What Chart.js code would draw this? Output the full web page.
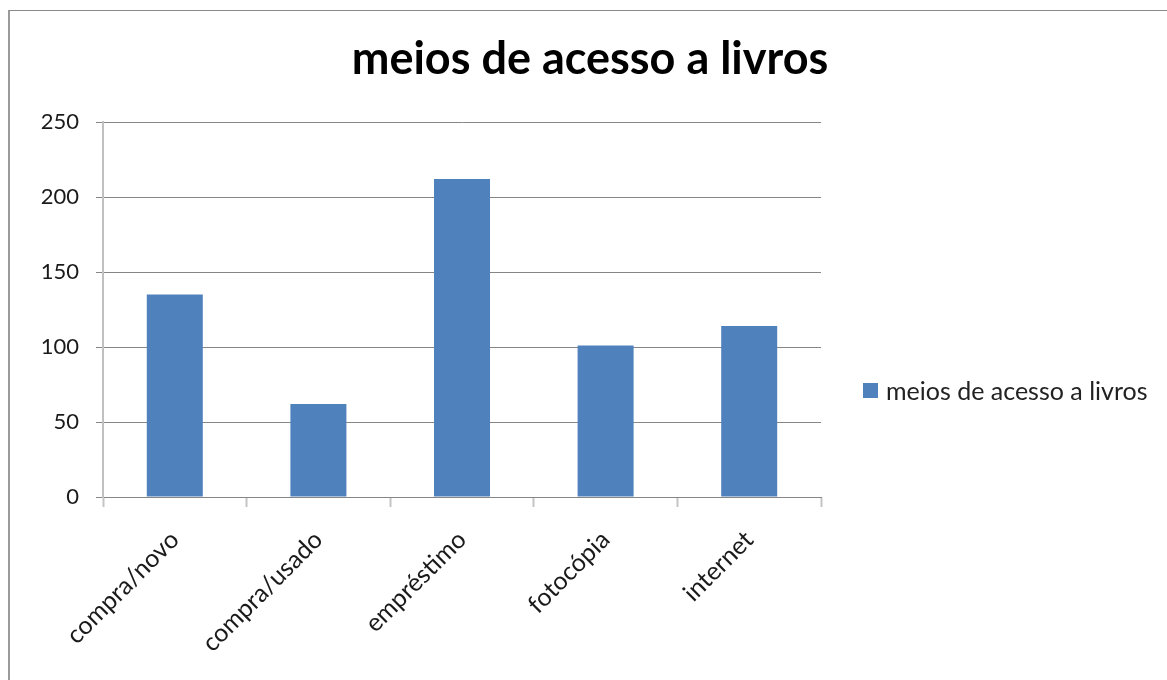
<!DOCTYPE html>
<html>
<head>
<meta charset="utf-8">
<script src="https://cdn.jsdelivr.net/npm/chart.js@4.4.0/dist/chart.umd.min.js"></script>
<style>
  html, body { margin: 0; padding: 0; background: #fff; }
  #wrap { position: relative; width: 1167px; height: 680px; }
  #frame { position: absolute; left: 8px; top: 10px; right: 0; bottom: 0;
           border-top: 1px solid #898989; border-left: 2px solid #9a9a9a; }
  canvas { position: absolute; left: 0; top: 0; }
  #legend { position: absolute; left: 863px; top: 374px; height: 32px;
            display: flex; align-items: center;
            font-family: Lato, "Open Sans", sans-serif; font-size: 25px; color: #222; }
  #legend .box { width: 15px; height: 15px; margin-right: 8px; }
</style>
</head>
<body>
<div id="wrap">
  <div id="frame"></div>
  <canvas id="chart" width="1167" height="680"></canvas>
  <div id="legend"></div>
</div>
<script>
var categories = ['compra/novo', 'compra/usado', 'empréstimo', 'fotocópia', 'internet'];
var values = [135, 62, 212, 101, 114];
var seriesName = 'meios de acesso a livros';
var chartTitle = 'meios de acesso a livros';
var yMin = 0;
var yMax = 250;
var yStep = 50;

var fontFamily = 'Lato, "Open Sans", sans-serif';
var barColor = '#4f81bd';

// title centre in the reference (the plot area is off-centre because of the legend)
var titleCenter = 590;

var titlePlacer = {
    id: 'titlePlacer',
    afterLayout: function(chart) {
        var t = chart.titleBlock;
        var tw = t.right - t.left;
        t.left = titleCenter - tw / 2;
        t.right = titleCenter + tw / 2;
    }
};

var ctx = document.getElementById('chart').getContext('2d');

var chart = new Chart(ctx, {
    type: 'bar',
    data: {
        labels: categories,
        datasets: [
            {
                label: seriesName,
                data: values,
                backgroundColor: barColor,
                borderWidth: 0,
                categoryPercentage: 1.0,
                barPercentage: 0.39
            }
        ]
    },
    options: {
        responsive: false,
        animation: false,
        layout: {
            padding: { left: 0, top: 0, right: 346, bottom: 0 }
        },
        plugins: {
            title: {
                display: true,
                text: chartTitle,
                color: '#000',
                font: { family: fontFamily, size: 45, weight: 'bold' },
                padding: { top: 32, bottom: 36 }
            },
            legend: { display: false },
            tooltip: { enabled: false }
        },
        scales: {
            x: {
                offset: true,
                afterFit: function(scale) { scale.height = 183; },
                grid: {
                    offset: true,
                    drawOnChartArea: false,
                    drawTicks: true,
                    tickLength: 10,
                    tickColor: '#c4c4c4',
                    tickWidth: 2
                },
                border: { display: true, color: '#868686', width: 1 },
                ticks: {
                    minRotation: 45,
                    maxRotation: 45,
                    padding: 18,
                    color: '#1a1a1a',
                    font: { family: fontFamily, size: 25 }
                }
            },
            y: {
                min: yMin,
                max: yMax,
                afterFit: function(scale) { scale.width = 103; },
                grid: {
                    color: '#868686',
                    tickColor: '#868686',
                    tickLength: 7,
                    lineWidth: 1
                },
                border: { display: true, color: '#c0c0c0', width: 2 },
                ticks: {
                    stepSize: yStep,
                    padding: 17,
                    color: '#1a1a1a',
                    font: { family: fontFamily, size: 22 }
                }
            }
        }
    },
    plugins: [titlePlacer]
});

// legend built from the chart's own dataset
var legendEl = document.getElementById('legend');
chart.data.datasets.forEach(function(ds) {
    var box = document.createElement('span');
    box.className = 'box';
    box.style.background = ds.backgroundColor;
    var text = document.createElement('span');
    text.textContent = ds.label;
    legendEl.appendChild(box);
    legendEl.appendChild(text);
});
</script>
</body>
</html>
